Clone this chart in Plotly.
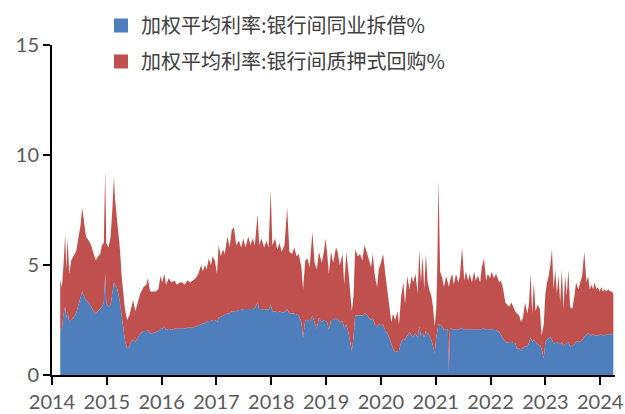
import plotly.graph_objects as go

# decimal-year positions of the observations
dates = [
    2014.15, 2014.18, 2014.21, 2014.24, 2014.26, 2014.285, 2014.315, 2014.35, 2014.39, 2014.44,
    2014.48, 2014.52, 2014.55, 2014.58, 2014.62, 2014.67, 2014.715, 2014.76, 2014.80, 2014.84,
    2014.88, 2014.91, 2014.945, 2014.97, 2014.99, 2015.03, 2015.07, 2015.10, 2015.13, 2015.15,
    2015.18, 2015.21, 2015.24, 2015.27, 2015.30, 2015.33, 2015.37, 2015.41, 2015.44, 2015.48,
    2015.52, 2015.56, 2015.61, 2015.67, 2015.72,
    2015.75, 2015.79, 2015.84, 2015.89, 2015.94, 2015.98, 2016.01, 2016.05, 2016.08, 2016.13,
    2016.18, 2016.23, 2016.28, 2016.33, 2016.38, 2016.42, 2016.47, 2016.52, 2016.57, 2016.62,
    2016.67, 2016.72, 2016.75, 2016.79, 2016.82, 2016.86, 2016.90, 2016.93, 2016.97, 2017.01,
    2017.04, 2017.08, 2017.12, 2017.15, 2017.20, 2017.24, 2017.28,
    2017.32, 2017.36, 2017.41, 2017.45, 2017.49, 2017.53, 2017.58, 2017.62, 2017.66, 2017.70,
    2017.75, 2017.78, 2017.82, 2017.87, 2017.91, 2017.95, 2017.99, 2018.02, 2018.07, 2018.11,
    2018.15, 2018.19, 2018.24, 2018.29, 2018.33, 2018.38, 2018.42, 2018.46, 2018.50, 2018.55,
    2018.58, 2018.62, 2018.66, 2018.70, 2018.75, 2018.79, 2018.83, 2018.87,
    2018.92, 2018.96, 2018.99, 2019.02, 2019.05, 2019.09, 2019.13, 2019.18, 2019.21, 2019.25,
    2019.30, 2019.33, 2019.37, 2019.41, 2019.44, 2019.47, 2019.50, 2019.53, 2019.58, 2019.62,
    2019.66, 2019.70, 2019.74, 2019.78, 2019.82, 2019.85, 2019.89, 2019.93, 2019.96, 2020.00,
    2020.04, 2020.08, 2020.12, 2020.15, 2020.19, 2020.22, 2020.26, 2020.30, 2020.33, 2020.37,
    2020.41, 2020.44, 2020.48,
    2020.52, 2020.56, 2020.59, 2020.63, 2020.67, 2020.70, 2020.73, 2020.76, 2020.79, 2020.82,
    2020.85, 2020.88, 2020.92, 2020.95, 2020.98, 2021.01, 2021.03, 2021.05, 2021.08, 2021.12,
    2021.15, 2021.19, 2021.22, 2021.24, 2021.26, 2021.30, 2021.33, 2021.37, 2021.41, 2021.44,
    2021.48, 2021.52, 2021.55, 2021.59, 2021.62, 2021.66, 2021.70, 2021.73, 2021.77, 2021.81,
    2021.84, 2021.88, 2021.92, 2021.95, 2021.99, 2022.02, 2022.06, 2022.10,
    2022.16, 2022.19, 2022.23, 2022.27, 2022.30, 2022.34, 2022.38, 2022.41, 2022.45, 2022.48,
    2022.52, 2022.56, 2022.59, 2022.63, 2022.67, 2022.70, 2022.73, 2022.76, 2022.79, 2022.82,
    2022.86, 2022.90, 2022.93, 2022.97, 2023.00, 2023.03, 2023.06, 2023.09, 2023.12, 2023.15,
    2023.18, 2023.21, 2023.24, 2023.27, 2023.30, 2023.33, 2023.36, 2023.39, 2023.42, 2023.45,
    2023.49, 2023.53, 2023.56, 2023.60, 2023.64, 2023.67, 2023.71,
    2023.75, 2023.78, 2023.81, 2023.84, 2023.87, 2023.90, 2023.93, 2023.96, 2023.99, 2024.02,
    2024.05, 2024.08, 2024.11, 2024.15, 2024.18, 2024.21, 2024.24,
]

# 加权平均利率:银行间同业拆借%
lending = [
    2.05, 2.1, 2.8, 3.1, 2.6, 2.9, 2.4, 2.5, 2.6, 2.8,
    3.2, 3.5, 3.8, 3.6, 3.4, 3.3, 3.1, 2.9, 2.8, 2.9,
    3.0, 3.1, 3.3, 4.6, 3.3, 3.1, 3.2, 3.8, 4.2, 4.1,
    4.0, 3.7, 3.3, 2.7, 2.1, 1.6, 1.2, 1.3, 1.5, 1.6,
    1.5, 1.7, 1.9, 2.0, 2.0,
    2.05, 1.9, 1.9, 1.95, 2.0, 2.1, 2.1, 2.2, 2.05, 2.1,
    2.05, 2.1, 2.1, 2.1, 2.1, 2.1, 2.15, 2.15, 2.15, 2.2,
    2.25, 2.3, 2.3, 2.35, 2.4, 2.45, 2.45, 2.5, 2.5, 2.4,
    2.6, 2.65, 2.7, 2.75, 2.8, 2.8, 2.9,
    2.9, 2.9, 2.95, 2.95, 3.0, 3.0, 3.0, 3.0, 3.0, 3.05,
    3.3, 3.0, 3.0, 2.95, 3.0, 2.95, 3.2, 2.9, 2.9, 2.85,
    2.9, 2.85, 2.85, 3.0, 2.8, 2.8, 2.8, 2.75, 2.7, 2.4,
    1.7, 2.5, 2.5, 2.4, 2.7, 2.4, 2.1, 2.6,
    2.4, 2.5, 2.5, 2.4, 2.05, 2.5, 2.5, 2.6, 2.55, 2.4,
    2.45, 2.1, 2.3, 1.9, 1.5, 1.1, 1.7, 2.7, 2.7, 2.7,
    2.7, 2.8, 2.75, 2.6, 2.5, 2.6, 2.3, 2.2, 2.3, 2.25,
    2.3, 2.0, 1.9, 1.7, 1.35, 1.2, 1.05, 1.1, 1.1, 1.5,
    1.65, 1.6, 1.8,
    1.95, 1.8, 1.75, 1.9, 1.7, 2.2, 1.8, 1.9, 1.7, 2.0,
    1.9, 1.8, 1.6, 1.3, 1.0, 1.7, 2.1, 2.3, 2.3, 2.2,
    2.05, 2.1, 2.1, 0.2, 2.1, 2.1, 2.05, 2.1, 2.05, 2.1,
    2.15, 2.05, 2.1, 2.05, 2.1, 2.05, 2.1, 2.05, 2.1, 2.05,
    2.1, 2.15, 2.05, 2.1, 2.05, 2.1, 2.05, 2.05,
    1.95, 1.8, 1.65, 1.55, 1.45, 1.5, 1.5, 1.45, 1.45, 1.2,
    1.2, 1.1, 1.25, 1.3, 1.3, 1.45, 1.7, 1.5, 1.6, 1.5,
    1.4, 1.35, 1.2, 0.75, 1.5, 1.6, 1.7, 1.75, 1.6, 1.4,
    1.5, 1.5, 1.45, 1.4, 1.5, 1.3, 1.4, 1.45, 1.5, 1.3,
    1.35, 1.4, 1.5, 1.55, 1.5, 1.6, 1.7,
    1.85, 1.9, 1.85, 1.8, 1.85, 1.8, 1.8, 1.8, 1.85, 1.85,
    1.8, 1.8, 1.85, 1.85, 1.85, 1.85, 1.9,
]

# 加权平均利率:银行间质押式回购%
repo = [
    2.25, 1.9, 2.2, 3.3, 2.2, 3.3, 2.2, 2.7, 2.8, 2.8,
    3.0, 3.3, 3.8, 3.4, 2.9, 2.8, 2.8, 2.6, 2.4, 2.5,
    2.5, 2.8, 2.7, 4.7, 2.7, 2.7, 3.1, 3.7, 4.8, 3.9,
    3.2, 3.0, 2.4, 1.8, 1.6, 1.4, 1.3, 1.4, 1.5, 1.8,
    1.4, 1.6, 1.8, 2.0, 2.1,
    2.35, 1.9, 1.9, 1.85, 1.9, 2.4, 2.1, 2.4, 2.05, 2.3,
    2.15, 2.2, 2.0, 2.1, 2.1, 2.0, 2.15, 2.05, 2.15, 2.2,
    2.35, 2.7, 2.4, 2.65, 2.4, 2.85, 2.55, 2.9, 2.7, 2.2,
    3.3, 2.75, 3.0, 2.75, 3.5, 3.0, 3.7,
    3.8, 3.0, 3.15, 2.85, 3.2, 2.8, 3.3, 2.9, 3.2, 2.85,
    4.0, 2.9, 3.2, 2.85, 3.1, 2.85, 5.2, 3.0, 3.3, 2.85,
    3.1, 2.75, 3.05, 4.6, 2.8, 2.7, 3.0, 2.65, 2.8, 2.5,
    2.2, 2.7, 2.8, 2.5, 3.8, 2.7, 2.7, 3.0,
    2.7, 3.1, 3.7, 3.1, 2.55, 3.1, 2.6, 3.2, 3.05, 2.6,
    3.05, 2.0, 3.3, 2.7, 2.0, 1.8, 1.9, 3.0, 2.7, 2.8,
    2.5, 3.1, 2.85, 2.7, 2.4, 2.9, 2.2, 1.8, 2.5, 2.85,
    3.2, 2.6, 1.8, 1.4, 1.05, 1.6, 1.45, 1.8, 1.2, 2.1,
    2.55, 1.6, 2.7,
    1.95, 2.7, 2.45, 2.7, 2.0, 3.5, 2.4, 3.5, 2.2, 3.5,
    2.4, 2.1, 2.0, 1.8, 1.2, 1.3, 3.1, 6.6, 2.4, 2.2,
    1.95, 2.4, 2.1, 3.8, 2.2, 2.5, 2.05, 2.5, 2.15, 2.4,
    3.65, 2.25, 2.6, 2.25, 2.5, 2.15, 2.6, 2.25, 2.4, 2.15,
    2.8, 3.15, 2.25, 2.5, 2.35, 2.6, 2.35, 2.55,
    2.25, 2.5, 2.25, 1.75, 1.75, 1.6, 1.8, 1.65, 1.45, 1.6,
    1.5, 1.3, 1.35, 2.0, 1.5, 1.75, 2.9, 1.3, 2.6, 1.4,
    1.8, 1.65, 0.6, 1.55, 2.2, 2.6, 2.8, 3.25, 4.1, 2.5,
    3.3, 2.2, 3.05, 1.9, 3.3, 1.7, 3.1, 2.15, 3.3, 1.8,
    1.65, 2.2, 2.7, 2.35, 2.7, 2.9, 3.9,
    2.35, 2.6, 2.05, 2.3, 2.05, 2.4, 2.1, 2.2, 1.95, 2.15,
    2.0, 2.1, 1.95, 2.05, 1.95, 1.95, 1.8,
]

years = list(range(2014, 2025))
year_labels = [str(y) for y in years]
y_ticks = [0, 5, 10, 15]

name_lending = "加权平均利率:银行间同业拆借%"
name_repo = "加权平均利率:银行间质押式回购%"
blue = "#4F7EBD"
red = "#C0504D"

fig = go.Figure()
fig.add_trace(go.Scatter(x=dates, y=lending, stackgroup="s", mode="lines",
                         line=dict(width=0, color=blue), fillcolor=blue,
                         showlegend=False, name=name_lending))
fig.add_trace(go.Scatter(x=dates, y=repo, stackgroup="s", mode="lines",
                         line=dict(width=0, color=red), fillcolor=red,
                         showlegend=False, name=name_repo))
# legend keys
fig.add_trace(go.Scatter(x=[None], y=[None], mode="markers", name=name_lending,
                         marker=dict(symbol="square", size=14, color=blue),
                         legendgroup="a"))
fig.add_trace(go.Scatter(x=[None], y=[None], mode="markers", name=name_repo,
                         marker=dict(symbol="square", size=14, color=red),
                         legendgroup="b"))

tick_font = dict(family="Lato", size=20, color="#595959")
fig.update_layout(
    width=625, height=414,
    margin=dict(l=52, r=10, t=45, b=39, autoexpand=False),
    paper_bgcolor="white", plot_bgcolor="white",
    showlegend=True,
    legend=dict(x=(101 - 52) / 563, xref="paper", y=(375 - 6) / 330, yref="paper",
                xanchor="left", yanchor="top",
                font=dict(family="Noto Sans CJK SC", size=20, color="#404040"),
                tracegroupgap=7, bgcolor="rgba(0,0,0,0)"),
    xaxis=dict(range=[2014, 2024.27], tickvals=years, ticktext=year_labels,
               showgrid=False, zeroline=False, showline=True, linecolor="black",
               linewidth=2, ticks="outside", ticklen=8, tickwidth=2, tickcolor="black",
               tickfont=tick_font),
    yaxis=dict(range=[0, 15], tickvals=y_ticks, showgrid=False, zeroline=False,
               showline=True, linecolor="black", linewidth=2, ticks="outside",
               ticklen=7, tickwidth=2, tickcolor="black", tickfont=tick_font),
)

fig.write_html("out.html")
